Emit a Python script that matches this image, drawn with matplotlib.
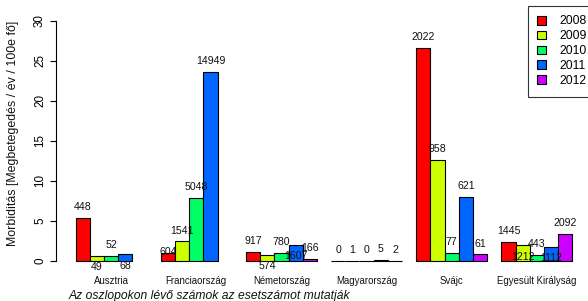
import numpy as np
import matplotlib
matplotlib.use("Agg")
import matplotlib.pyplot as plt
from matplotlib.transforms import offset_copy

plt.rcParams['font.family'] = ['Liberation Sans', 'DejaVu Sans']

groups = ["Ausztria", "Franciaország", "Németország", "Magyarország", "Svájc", "Egyesült Királyság"]
years = ["2008", "2009", "2010", "2011", "2012"]
colors = ["#FF0000", "#CCFF00", "#00FF66", "#0066FF", "#CC00FF"]

nan = np.nan
r2008 = [5.4, 0.95, 1.12, 0.0, 26.6, 2.35]
r2009 = [0.59, 2.42, 0.70, 0.01, 12.55, 1.93]
r2010 = [0.63, 7.9, 0.95, 0.0, 1.02, 0.68]
r2011 = [0.82, 23.6, 1.96, 0.05, 8.0, 1.76]
r2012 = [nan, nan, 0.2, 0.02, 0.78, 3.35]
rates = [r2008, r2009, r2010, r2011, r2012]

c2008 = [448, 604, 917, 0, 2022, 1445]
c2009 = [49, 1541, 574, 1, 958, 1212]
c2010 = [52, 5048, 780, 0, 77, 443]
c2011 = [68, 14949, 1607, 5, 621, 1112]
c2012 = [None, None, 166, 2, 61, 2092]
cases = [c2008, c2009, c2010, c2011, c2012]

# label placement: 1 above bar, -1 below bar, 0 at bar top
p2008 = [1, 0, 1, 1, 1, 1]
p2009 = [-1, 1, -1, 1, 1, -1]
p2010 = [1, 1, 1, 1, 1, 1]
p2011 = [-1, 1, -1, 1, 1, -1]
p2012 = [1, 1, 1, 1, 1, 1]
places = [p2008, p2009, p2010, p2011, p2012]

W, H = 588, 301
fig = plt.figure(figsize=(W / 100, H / 100), dpi=100)

# axes in pixel layout
x_left_px, x_right_px = 55.8, 592.2
y_top_px, y_bot_px = 11.1, 270.3
ax = fig.add_axes([x_left_px / W, 1 - y_bot_px / H,
                   (x_right_px - x_left_px) / W, (y_bot_px - y_top_px) / H])
ax.set_xlim(-0.4, 37.4)
ax.set_ylim(-1.2, 31.2)

ng = len(groups)
ns = len(years)
for s in range(ns):
    for g in range(ng):
        v = rates[s][g]
        if v is None or np.isnan(v):
            continue
        x0 = 1 + g * (ns + 1) + s
        ax.bar(x0, v, width=1.0, align='edge', color=colors[s],
               edgecolor='black', linewidth=0.8, zorder=2)

handles = [plt.Rectangle((0, 0), 1, 1, facecolor=c, edgecolor='black', linewidth=0.8) for c in colors]

# value labels
for s in range(ns):
    for g in range(ng):
        v = rates[s][g]
        if v is None or np.isnan(v):
            continue
        xc = 1 + g * (ns + 1) + s + 0.5
        p = places[s][g]
        dy = {1: 7.8, -1: -8.2, 0: 0.7}[p]
        tr = offset_copy(ax.transData, fig=fig, x=0, y=dy, units='points')
        ax.text(xc, v, str(cases[s][g]), transform=tr, ha='center', va='center',
                fontsize=7.6, color='#111111', zorder=3, clip_on=False)

# group names
for g in range(ng):
    xc = 1 + g * (ns + 1) + ns / 2
    tr = offset_copy(ax.transData, fig=fig, x=0, y=-14.6, units='points')
    ax.text(xc, 0, groups[g], transform=tr, ha='center', va='center',
            fontsize=6.9, color='#111111', clip_on=False)

# axes styling
for sp in ['top', 'right', 'bottom']:
    ax.spines[sp].set_visible(False)
ax.spines['left'].set_bounds(0, 30)
ax.spines['left'].set_linewidth(0.8)
ax.set_xticks([])
ax.set_yticks([0, 5, 10, 15, 20, 25, 30])
ax.tick_params(axis='y', length=4.3, width=0.8, labelsize=8.4, pad=7.0)
for lbl in ax.get_yticklabels():
    lbl.set_rotation(90)
    lbl.set_ha('center')
    lbl.set_va('center')

fig.text(13.3 / W, 1 - 133 / H, "Morbiditás [Megbetegedés / év / 100e fő]",
         rotation=90, ha='center', va='center', fontsize=8.9, color='#111111')

fig.text(68.3 / W, 1 - 295.7 / H, "Az oszlopokon lévő számok az esetszámot mutatják",
         ha='left', va='center', fontsize=8.7, style='italic', color='#111111')

leg = fig.legend(handles, years, loc='upper left',
                 bbox_to_anchor=(527.7 / W, 1 - 5.7 / H), bbox_transform=fig.transFigure,
                 fontsize=8.7, handlelength=0.75, handleheight=0.75, handletextpad=1.05,
                 labelspacing=0.24, borderpad=0.8, borderaxespad=0, fancybox=False,
                 frameon=True, edgecolor='black')
leg.get_frame().set_linewidth(0.8)

fig.savefig("out.png", dpi=100)
